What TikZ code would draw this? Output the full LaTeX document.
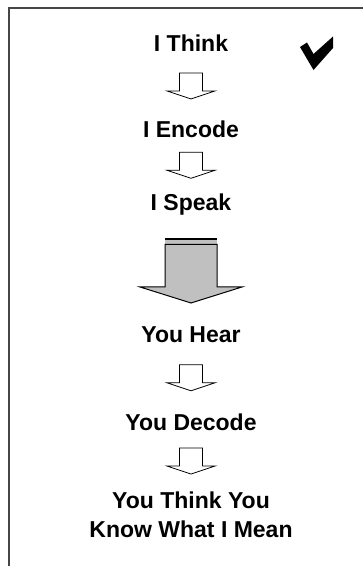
\documentclass[tikz,border=0pt]{standalone}
\usepackage{fontspec}
\setmainfont{Liberation Sans}
\usetikzlibrary{calc}
\definecolor{framegray}{RGB}{70,70,70}
\definecolor{arrowgray}{RGB}{192,192,192}
\tikzset{
  lbl/.style={font=\bfseries\fontsize{23}{28.5}\selectfont, align=center, inner sep=0pt, anchor=base},
  smallarrow/.pic={
    \draw[line width=0.8pt, line join=miter] (-11.5,-13) -- (-11.5,5) -- (-24,5) -- (0,13) -- (24,5) -- (11.5,5) -- (11.5,-13) -- cycle;
  },
  bigarrow/.pic={
    \fill[arrowgray] (-26,-31.5) rectangle (26,-26);
    \filldraw[fill=arrowgray, line width=1pt, line join=miter] (-26,-26) -- (-26,16.5) -- (-51,16.5) -- (0,32.5) -- (51,16.5) -- (26,16.5) -- (26,-26) -- cycle;
    \draw[line width=2.2pt] (-26,-31.5) -- (26,-31.5);
    \draw[line width=1.4pt] (-26,-26) -- (26,-26);
  },
}
\begin{document}
\begin{tikzpicture}[x=1pt, y=-1pt]
  \useasboundingbox (0,0) rectangle (363,566);
  % frame
  \draw[framegray, line width=2pt] (9,566) -- (9,8) -- (363,8);
  % labels
  \node[lbl] (think)  at (191,51.5) {I Think};
  \node[lbl] (encode) at (191,137)  {I Encode};
  \node[lbl] (speak)  at (191,210)  {I Speak};
  \node[lbl] (hear)   at (191,342)  {You Hear};
  \node[lbl] (decode) at (191,430)  {You Decode};
  \node[lbl] (mean)   at (191,537)  {You Think You\\Know What I Mean};
  % arrows between labels
  \pic at ($(think.south)!0.5!(encode.north)$) {smallarrow};
  \pic at ($(encode.south)!0.5!(speak.north)$) {smallarrow};
  \pic at ($(speak.south)!0.5!(hear.north)$) {bigarrow};
  \pic at ($(hear.south)!0.5!(decode.north)$) {smallarrow};
  \pic at ($(decode.south)!0.5!(mean.north)$) {smallarrow};
  % check mark
  \fill[black] (300,47) -- (307,42.5) -- (313.5,54) -- (333,36.5) -- (333,48) -- (313.5,70) -- cycle;
\end{tikzpicture}
\end{document}
